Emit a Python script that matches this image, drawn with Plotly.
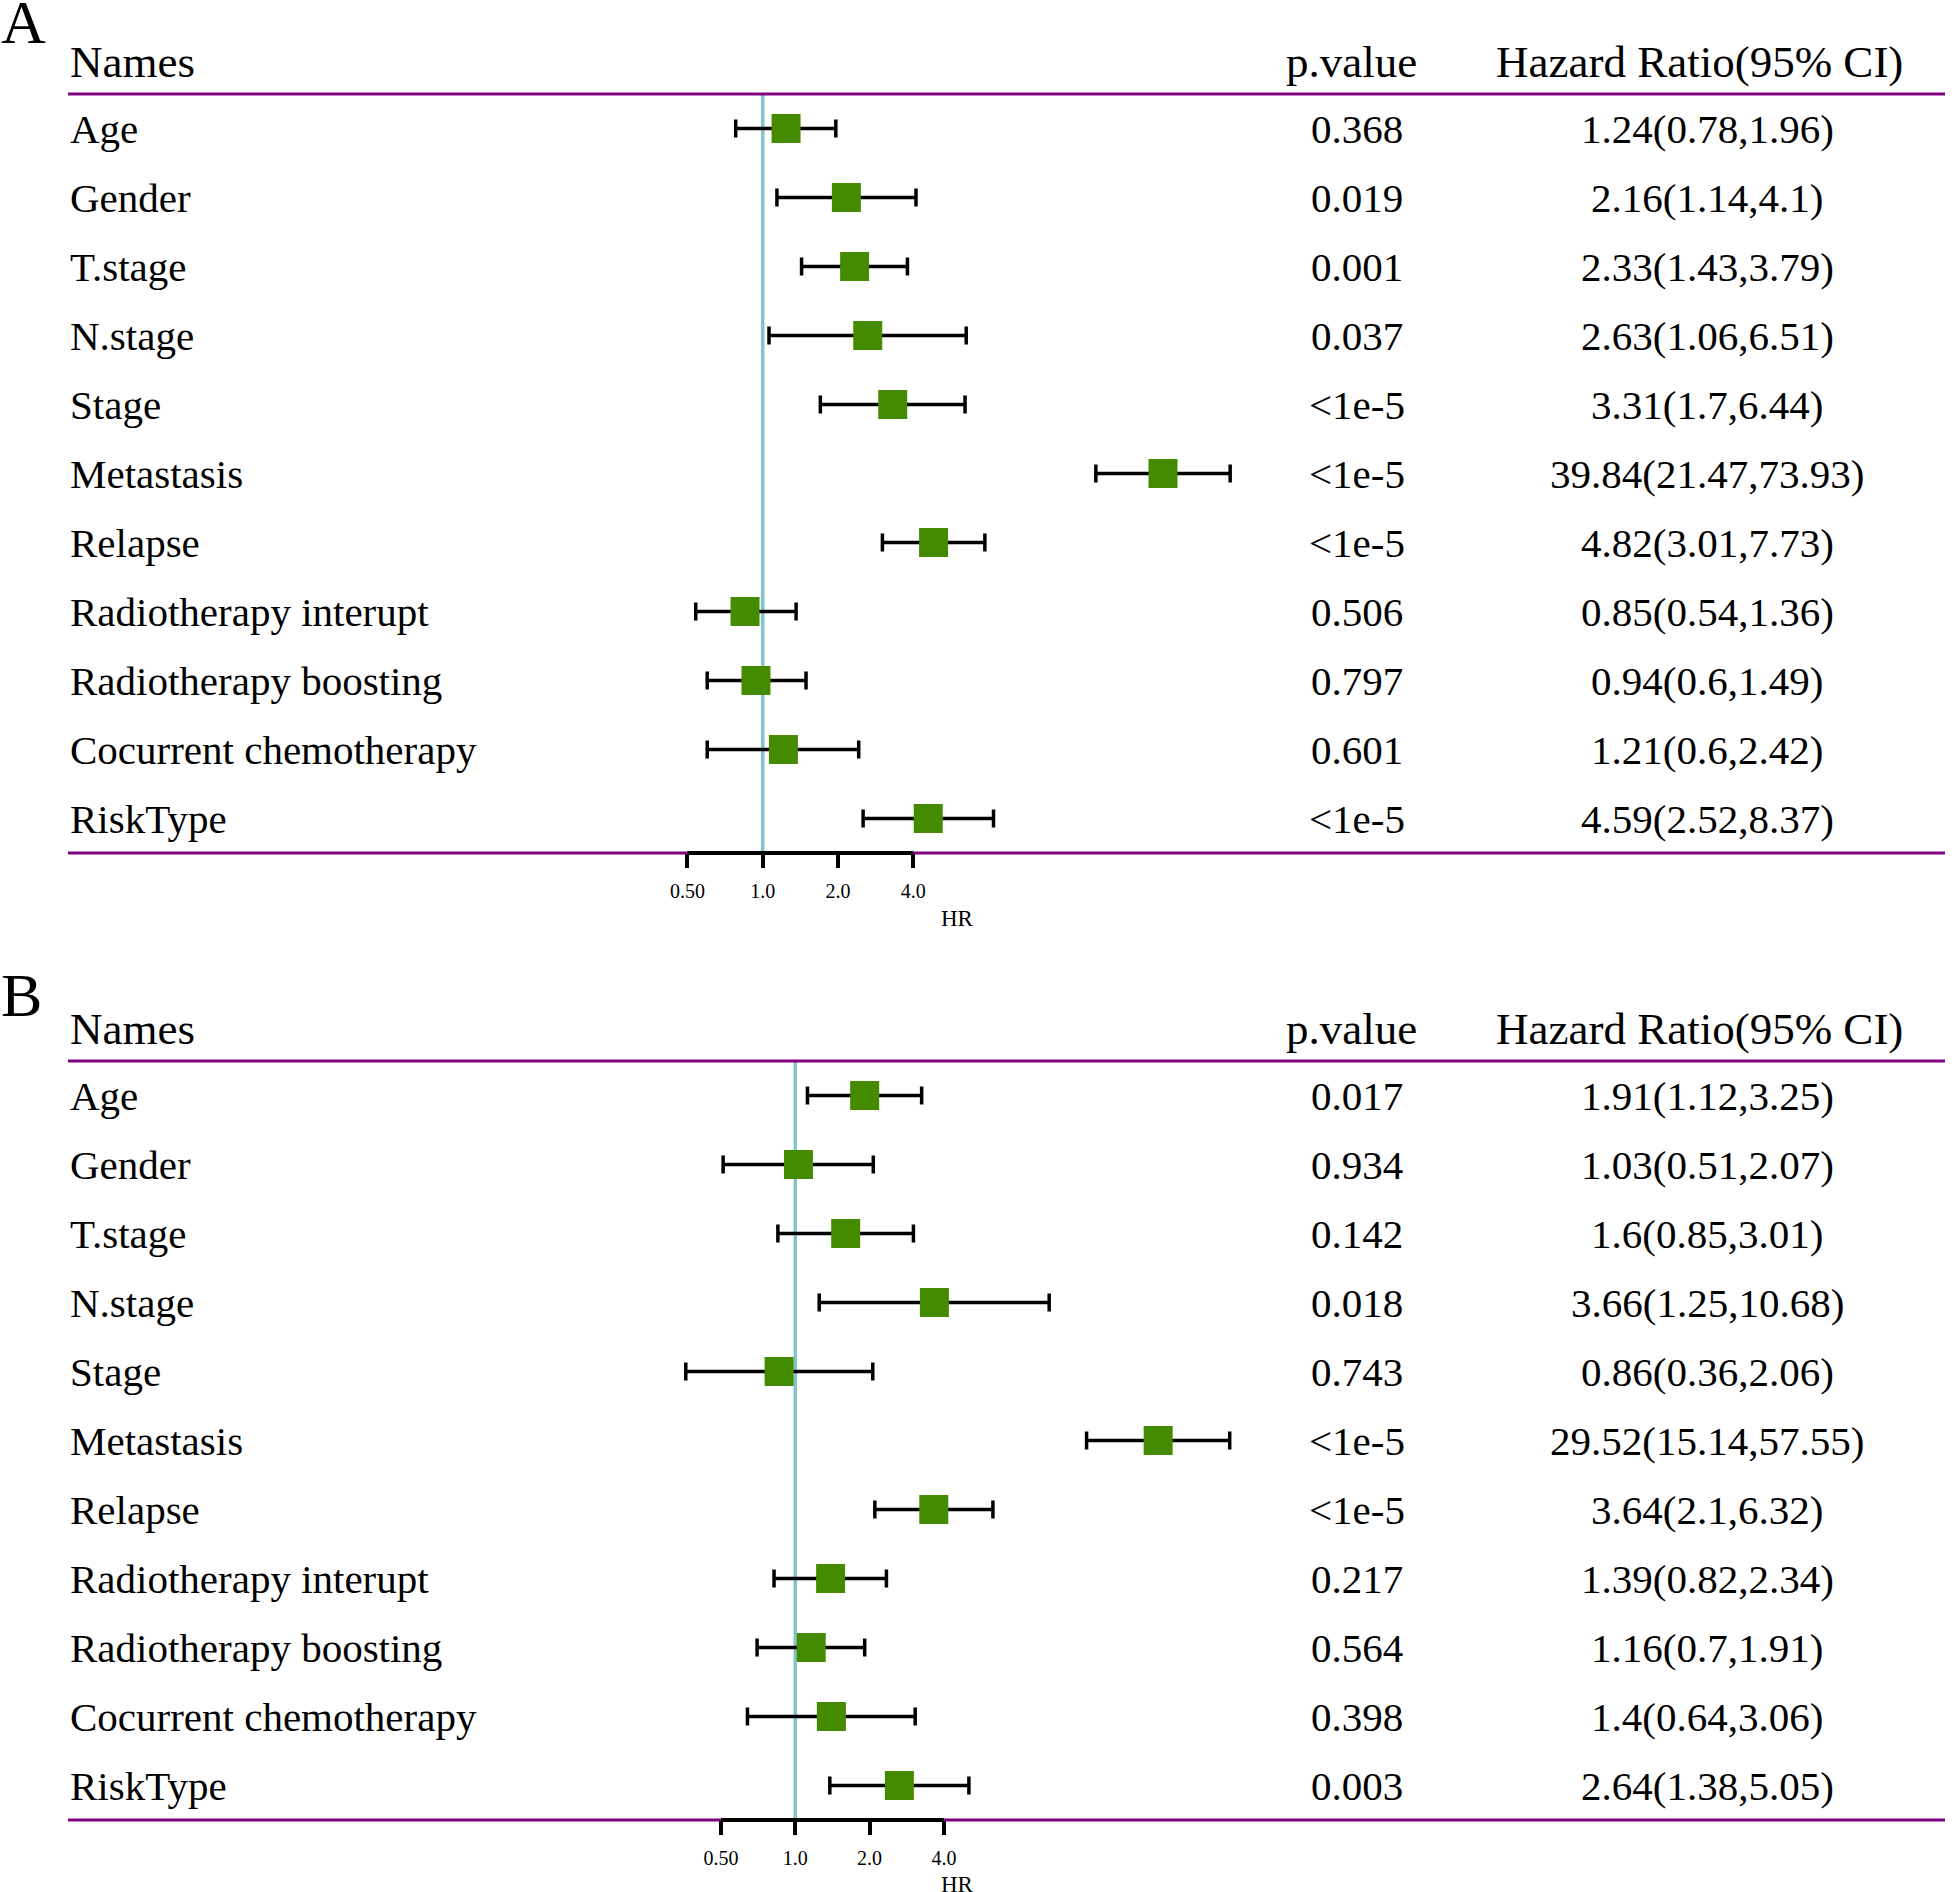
import numpy as np
import plotly.graph_objects as go

# ---------------- data ----------------
names = ["Age", "Gender", "T.stage", "N.stage", "Stage", "Metastasis", "Relapse",
         "Radiotherapy interupt", "Radiotherapy boosting", "Cocurrent chemotherapy", "RiskType"]

hr_a = [1.24, 2.16, 2.33, 2.63, 3.31, 39.84, 4.82, 0.85, 0.94, 1.21, 4.59]
lo_a = [0.78, 1.14, 1.43, 1.06, 1.7, 21.47, 3.01, 0.54, 0.6, 0.6, 2.52]
hi_a = [1.96, 4.1, 3.79, 6.51, 6.44, 73.93, 7.73, 1.36, 1.49, 2.42, 8.37]
p_a = ["0.368", "0.019", "0.001", "0.037", "<1e-5", "<1e-5", "<1e-5", "0.506", "0.797", "0.601", "<1e-5"]

hr_b = [1.91, 1.03, 1.6, 3.66, 0.86, 29.52, 3.64, 1.39, 1.16, 1.4, 2.64]
lo_b = [1.12, 0.51, 0.85, 1.25, 0.36, 15.14, 2.1, 0.82, 0.7, 0.64, 1.38]
hi_b = [3.25, 2.07, 3.01, 10.68, 2.06, 57.55, 6.32, 2.34, 1.91, 3.06, 5.05]
p_b = ["0.017", "0.934", "0.142", "0.018", "0.743", "<1e-5", "<1e-5", "0.217", "0.564", "0.398", "0.003"]

tick_vals = [0.5, 1.0, 2.0, 4.0]
tick_text = ["0.50", "1.0", "2.0", "4.0"]
headers = ["Names", "p.value", "Hazard Ratio(95% CI)"]
panel_labels = ["A", "B"]
x_title = "HR"

# ---------------- layout constants ----------------
FW, FH = 1952, 1892
FONT = "Liberation Serif"
BOX_COLOR = "#458B00"
ZERO_COLOR = "#82C4CE"
RULE_COLOR = "#800080"


def px(x):
    return x / FW


def py(y):
    return 1 - y / FH


panels = [
    dict(hr=hr_a, lo=lo_a, hi=hi_a, p=p_a, top=94, bottom=853, one=762.7, step=75.3,
         label_y=22, title_y=918),
    dict(hr=hr_b, lo=lo_b, hi=hi_b, p=p_b, top=1061, bottom=1820, one=795.3, step=74.3,
         label_y=995, title_y=1884),
]

fig = go.Figure()
shapes = []
annotations = []
n = len(names)
rows = list(range(n))
row_h = (panels[0]["bottom"] - panels[0]["top"]) / n

for i, pn in enumerate(panels):
    sfx = "" if i == 0 else str(i + 1)
    xa, ya = "x" + sfx, "y" + sfx
    hr = np.array(pn["hr"])
    lo = np.array(pn["lo"])
    hi = np.array(pn["hi"])

    fig.add_trace(go.Scatter(
        x=hr, y=rows, mode="markers",
        marker=dict(symbol="square", size=29, color=BOX_COLOR, line=dict(width=0)),
        error_x=dict(type="data", symmetric=False, array=hi - hr, arrayminus=hr - lo,
                     color="black", thickness=3.5, width=9),
        xaxis=xa, yaxis=ya, showlegend=False, hoverinfo="skip",
    ))

    l2 = np.log10(2)
    xr = [l2 * (0 - pn["one"]) / pn["step"], l2 * (FW - pn["one"]) / pn["step"]]
    fig.update_layout(**{
        "xaxis" + sfx: dict(type="log", domain=[0, 1], range=xr, anchor=ya,
                            tickvals=tick_vals, ticktext=tick_text, ticks="outside",
                            ticklen=14, tickwidth=3.5, tickcolor="black",
                            ticklabelstandoff=6,
                            showline=False, showgrid=False, zeroline=False,
                            tickfont=dict(family=FONT, size=20, color="black")),
        "yaxis" + sfx: dict(domain=[py(pn["bottom"]), py(pn["top"])], range=[n - 0.5, -0.5],
                            visible=False, anchor=xa, showgrid=False, zeroline=False),
    })

    # vertical reference line at HR = 1
    shapes.append(dict(type="line", xref=xa, yref=ya + " domain",
                       x0=1.0, x1=1.0, y0=0, y1=1,
                       line=dict(color=ZERO_COLOR, width=3.5), layer="below"))
    # horizontal rules
    for yy in (0, 1):
        shapes.append(dict(type="line", xref="paper", yref=ya + " domain",
                           x0=px(68), x1=px(1945), y0=yy, y1=yy,
                           line=dict(color=RULE_COLOR, width=3)))
    # axis line spanning the ticks
    shapes.append(dict(type="line", xref=xa, yref=ya + " domain",
                       x0=min(tick_vals), x1=max(tick_vals), y0=0, y1=0,
                       line=dict(color="black", width=4)))

    # panel label
    annotations.append(dict(text=panel_labels[i], xref="paper", yref="paper",
                            x=px(-1), y=py(pn["label_y"]), xanchor="left", yanchor="middle",
                            showarrow=False, font=dict(family=FONT, size=62, color="black")))
    # headers
    hy = py(pn["top"] - row_h / 2 + 2)
    for txt, xx, anc in zip(headers, [68, 1351, 1699], ["left", "center", "center"]):
        annotations.append(dict(text=txt, xref="paper", yref="paper", x=px(xx), y=hy,
                                xanchor=anc, yanchor="middle", showarrow=False,
                                font=dict(family=FONT, size=45, color="black")))
    # rows
    for r in rows:
        hr_txt = f"{pn['hr'][r]:g}({pn['lo'][r]:g},{pn['hi'][r]:g})"
        for txt, xx, anc in [(names[r], 68, "left"), (pn["p"][r], 1357, "center"),
                             (hr_txt, 1707, "center")]:
            annotations.append(dict(text=txt, xref="paper", yref=ya, x=px(xx), y=r,
                                    xanchor=anc, yanchor="middle", showarrow=False,
                                    font=dict(family=FONT, size=41, color="black")))
    # axis title
    annotations.append(dict(text=x_title, xref="paper", yref="paper", x=px(957),
                            y=py(pn["title_y"]), xanchor="center", yanchor="middle",
                            showarrow=False, font=dict(family=FONT, size=23, color="black")))

fig.update_layout(width=FW, height=FH, margin=dict(l=0, r=0, t=0, b=0),
                  paper_bgcolor="white", plot_bgcolor="white",
                  shapes=shapes, annotations=annotations)

fig.write_html("out.html", config={"displayModeBar": False},
               post_script="document.body.style.margin='0';")
